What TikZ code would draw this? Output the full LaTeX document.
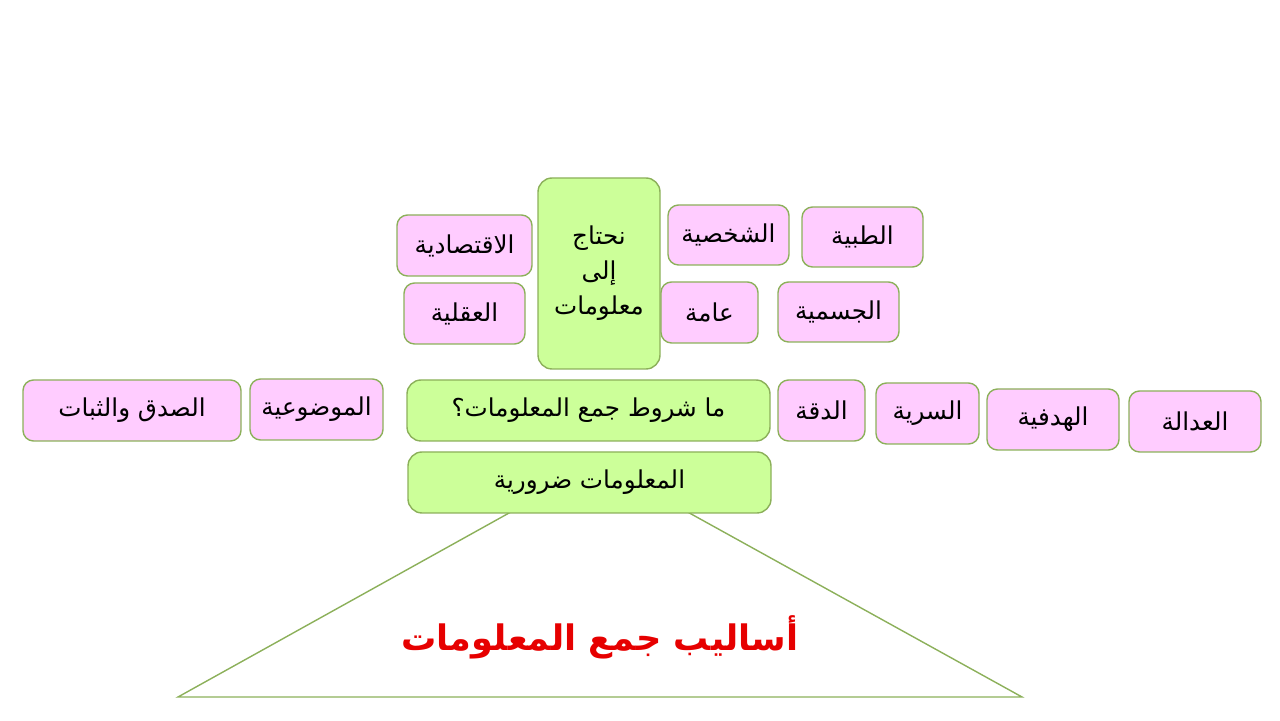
\documentclass[tikz,border=0pt]{standalone}
\usepackage{fontspec}
\usepackage{tikz}
\TeXXeTstate=1
\newfontfamily\arabicfont[Script=Arabic]{DejaVu Sans}
\newcommand{\artxt}[1]{\arabicfont\beginR #1\endR}
\definecolor{boxline}{HTML}{8CB05A}
\definecolor{pinkfill}{HTML}{FFCCFF}
\definecolor{greenfill}{HTML}{CCFF99}
\definecolor{titlered}{HTML}{E60000}
\tikzset{
  pinkbox/.style={draw=boxline, fill=pinkfill, rounded corners=6pt, line width=0.8pt,
    inner sep=0pt, font=\fontsize{14}{17}\selectfont},
  greenbox/.style={draw=boxline, fill=greenfill, rounded corners=8pt, line width=0.8pt,
    inner sep=0pt, font=\fontsize{14}{17}\selectfont},
}

\begin{document}
\begin{tikzpicture}
    \useasboundingbox (0,0) rectangle (25.6,14.4);

    % triangle under the boxes
    \coordinate (apex) at (11.98,5.14);
    \coordinate (baseL) at (3.56,0.46);
    \coordinate (baseR) at (20.44,0.46);
    \draw[boxline, line width=0.8pt] (apex) -- (baseL) -- (baseR) -- cycle;
    \node[text=titlered, font=\fontsize{20}{24}\selectfont\bfseries] (methods) at (12.0,1.66) {\artxt{أساليب جمع المعلومات}};

    % upper group
    \node[greenbox, minimum width=2.44cm, minimum height=3.82cm, align=center] (need) at (11.98,8.93)
        {\artxt{نحتاج}\\[3pt]\artxt{إلى}\\[3pt]\artxt{معلومات}};
    \node[pinkbox, minimum width=2.70cm, minimum height=1.22cm] (econ) at (9.29,9.49) {\artxt{الاقتصادية}};
    \node[pinkbox, minimum width=2.42cm, minimum height=1.22cm] (mind) at (9.29,8.13) {\artxt{العقلية}};
    \node[pinkbox, minimum width=2.42cm, minimum height=1.20cm] (pers) at (14.57,9.70) {\artxt{الشخصية}};
    \node[pinkbox, minimum width=2.42cm, minimum height=1.20cm] (med) at (17.25,9.66) {\artxt{الطبية}};
    \node[pinkbox, minimum width=1.94cm, minimum height=1.22cm] (gen) at (14.19,8.15) {\artxt{عامة}};
    \node[pinkbox, minimum width=2.42cm, minimum height=1.20cm] (body) at (16.77,8.16) {\artxt{الجسمية}};

    % conditions row
    \node[greenbox, minimum width=7.26cm, minimum height=1.22cm] (cond) at (11.77,6.19) {\artxt{ما شروط جمع المعلومات؟}};
    \node[pinkbox, minimum width=4.36cm, minimum height=1.22cm] (valid) at (2.64,6.19) {\artxt{الصدق والثبات}};
    \node[pinkbox, minimum width=2.66cm, minimum height=1.22cm] (obj) at (6.33,6.21) {\artxt{الموضوعية}};
    \node[pinkbox, minimum width=1.74cm, minimum height=1.22cm] (acc) at (16.43,6.19) {\artxt{الدقة}};
    \node[pinkbox, minimum width=2.06cm, minimum height=1.22cm] (secr) at (18.55,6.13) {\artxt{السرية}};
    \node[pinkbox, minimum width=2.64cm, minimum height=1.22cm] (purp) at (21.06,6.01) {\artxt{الهدفية}};
    \node[pinkbox, minimum width=2.64cm, minimum height=1.22cm] (fair) at (23.90,5.97) {\artxt{العدالة}};

    \node[greenbox, minimum width=7.26cm, minimum height=1.22cm] (needful) at (11.79,4.75) {\artxt{المعلومات ضرورية}};
\end{tikzpicture}
\end{document}
